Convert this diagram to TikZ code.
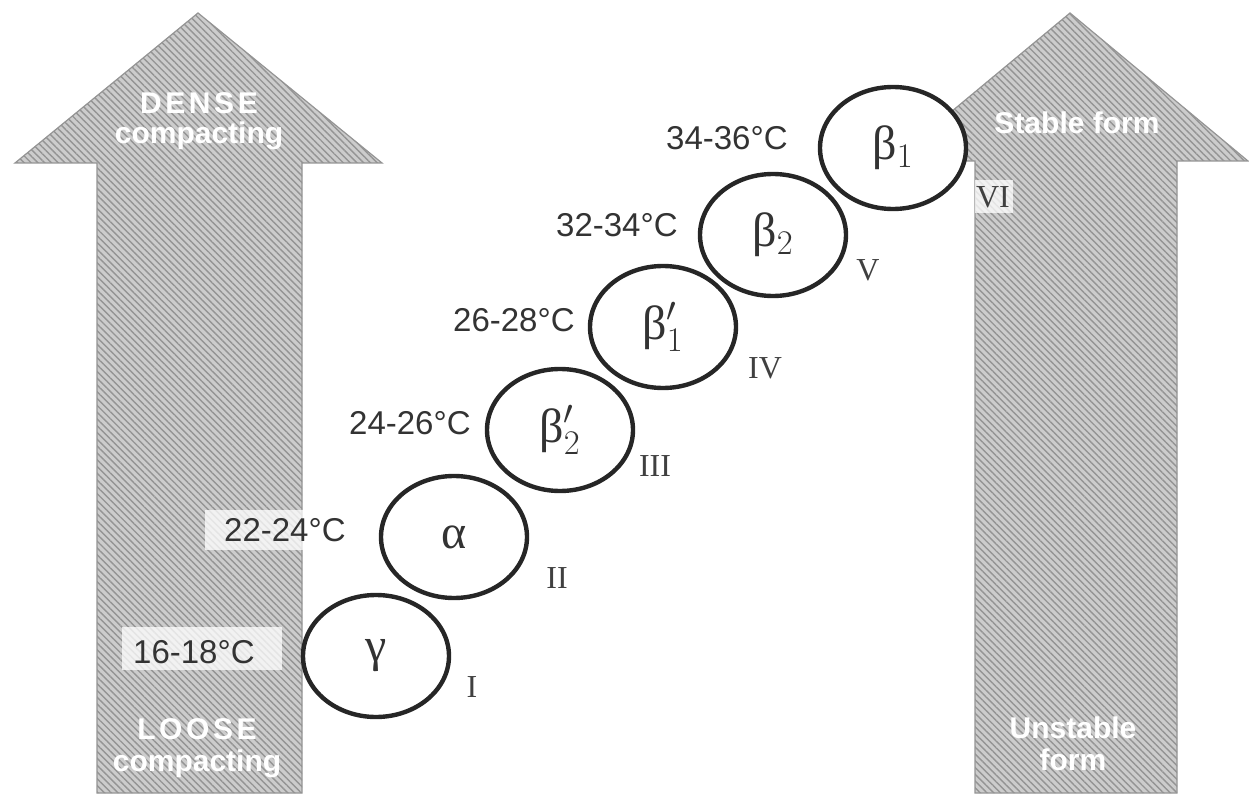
\documentclass[tikz,border=0pt]{standalone}
\usepackage{fontspec}
\setmainfont{Liberation Sans}
\newfontfamily\grfont{Liberation Serif}
\usepackage{tikz}
\usetikzlibrary{shapes.geometric,patterns.meta}

\tikzset{
  bigarrow/.style={fill=black!20, draw=black!42, line width=0.6pt,
    postaction={pattern={Lines[angle=-45,distance=2.4pt,line width=0.7pt]}, pattern color=black!42}},
  armtext/.style={text=white, font=\bfseries\fontsize{15}{16}\selectfont, align=center},
  phase/.style={ellipse, draw=black!85, line width=2.2pt, fill=white, minimum width=73pt,
    minimum height=61pt, inner sep=0pt, text=black!80, font=\grfont\fontsize{24}{24}\selectfont},
  temp/.style={anchor=east, text=black!80, font=\fontsize{16.5}{18}\selectfont, inner sep=1pt},
  tempbox/.style={fill=white, fill opacity=0.75, draw=none},
  roman/.style={text=black!75, font=\grfont\fontsize{16}{16}\selectfont, inner sep=1pt}
}

\begin{document}
\begin{tikzpicture}[x=0.5pt, y=-0.5pt]
\useasboundingbox (0,0) rectangle (1249,797);
% the two big arrows
\draw[bigarrow] (97,793) -- (97,163) -- (15,163) -- (198,13) -- (382,163) -- (302,163) -- (302,793) -- cycle;
\draw[bigarrow] (975,793) -- (975,161) -- (892,161) -- (1070,13) -- (1248,161) -- (1177,161) -- (1177,793) -- cycle;
\node[armtext] (dense) at (199,121) {{\addfontfeature{LetterSpace=12}DENSE}\\[-1pt]compacting};
\node[armtext] (loose) at (197,748) {{\addfontfeature{LetterSpace=12}LOOSE}\\[0pt]compacting};
\node[armtext] (stable) at (1077,123) {Stable form};
\node[armtext] (unstable) at (1073,744) {Unstable\\form};
% light patches behind some labels
\fill[tempbox] (122,627) rectangle (282,670);
\fill[tempbox] (205,510) rectangle (365,550);
\fill[tempbox] (975,180) rectangle (1013,213);
% polymorphic forms
\foreach \nm/\tx/\ty/\gr in {gam/376/656/{γ}, alp/454/537/{α}, bpb/560/430/{β$^{\prime}_{2}$},
    bpa/663/327/{β$^{\prime}_{1}$}, bb/773/235/{β$_{2}$}, ba/893/148/{β$_{1}$}}
  \node[phase] (\nm) at (\tx,\ty) {\gr};
% melting ranges
\foreach \nm/\tx/\ty/\t in {tg/257/652/16-18, ta/348/530/22-24, tbpb/473/423/24-26,
    tbpa/577/320/26-28, tbb/680/225/32-34, tba/790/138/34-36}
  \node[temp] (\nm) at (\tx,\ty) {\t°C};
% form numbers
\foreach \nm/\tx/\ty/\r in {rI/472/687/I, rII/557/578/II, rIII/655/466/III,
    rIV/765/368/IV, rV/868/270/V, rVI/993/197/VI}
  \node[roman] (\nm) at (\tx,\ty) {\r};
\end{tikzpicture}
\end{document}
